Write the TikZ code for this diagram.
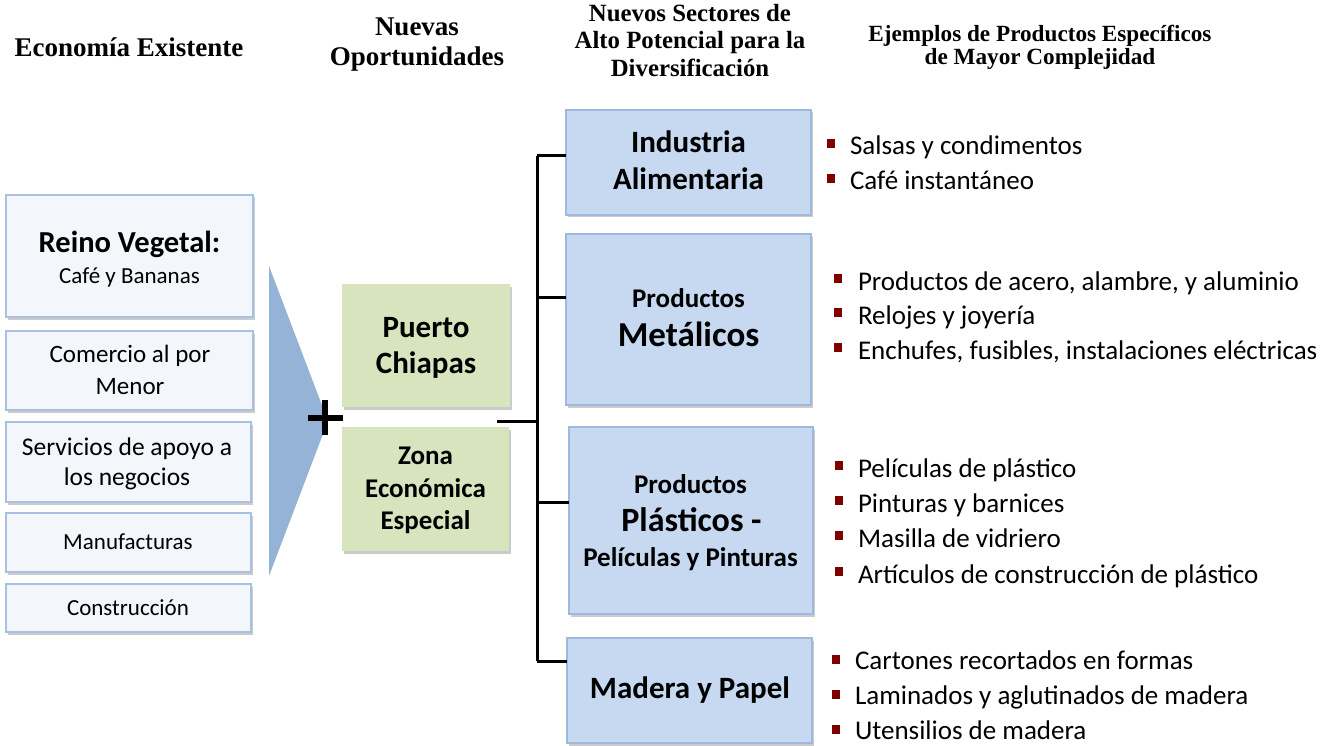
\documentclass[tikz,border=0pt]{standalone}
\usepackage{fontspec}
\setmainfont{Carlito}
\newfontfamily\hdrfont{Liberation Serif}
\usetikzlibrary{shadows}
\definecolor{sfill}{RGB}{198,217,241}
\definecolor{sborder}{RGB}{157,185,222}
\definecolor{efill}{RGB}{243,246,251}
\definecolor{eborder}{RGB}{168,192,226}
\definecolor{gfill}{RGB}{215,228,189}
\definecolor{trifill}{RGB}{149,179,215}
\definecolor{bulred}{RGB}{128,0,0}
\newcommand\myfs[1]{\fontsize{#1}{#1}\selectfont}
\tikzset{
  boxshadow/.style={drop shadow={shadow xshift=2pt,shadow yshift=-2.5pt,fill=black!45,opacity=0.45}},
  ebox/.style={rectangle,fill=efill,draw=eborder,line width=1.3pt,inner sep=0pt,outer sep=0pt,boxshadow},
  gbox/.style={rectangle,fill=gfill,draw=none,inner sep=0pt,outer sep=0pt,boxshadow},
  sbox/.style={rectangle,fill=sfill,draw=sborder,line width=1.5pt,inner sep=0pt,outer sep=0pt,boxshadow},
  txt/.style={inner sep=0pt,outer sep=0pt,anchor=base},
  btxt/.style={inner sep=0pt,outer sep=0pt,anchor=base west,font=\myfs{27}},
  bul/.style={rectangle,fill=bulred,draw=none,minimum width=8.5pt,minimum height=9pt,inner sep=0pt},
  conn/.style={draw=black,line width=3pt},
  hdr/.style={txt,font=\hdrfont\bfseries}
}
\begin{document}
\begin{tikzpicture}[x=1pt,y=-1pt]
\useasboundingbox (0,0) rectangle (1322,746);

% headers
\node[hdr,font=\hdrfont\bfseries\myfs{27}] (h1) at (129,57) {Economía Existente};
\node[hdr,font=\hdrfont\bfseries\myfs{27}] (h2a) at (417,36) {Nuevas};
\node[hdr,font=\hdrfont\bfseries\myfs{27}] (h2b) at (417,66) {Oportunidades};
\node[hdr,font=\hdrfont\bfseries\myfs{24.8}] (h3a) at (690,22) {Nuevos Sectores de};
\node[hdr,font=\hdrfont\bfseries\myfs{24.8}] (h3b) at (690,49) {Alto Potencial para la};
\node[hdr,font=\hdrfont\bfseries\myfs{24.8}] (h3c) at (690,77) {Diversificación};
\node[hdr,font=\hdrfont\bfseries\myfs{23.2}] (h4a) at (1040,42) {Ejemplos de Productos Específicos};
\node[hdr,font=\hdrfont\bfseries\myfs{23.2}] (h4b) at (1040,65) {de Mayor Complejidad};

% triangle and plus
\fill[trifill] (269,266) -- (328,421) -- (269,576) -- cycle;
\draw[line width=6.5pt] (308,418) -- (343,418);
\draw[line width=6.5pt] (325,400) -- (325,435);

% left boxes
\node[ebox,minimum width=247pt,minimum height=122pt] (reino) at (129.5,256) {};
\node[ebox,minimum width=247pt,minimum height=79pt] (comercio) at (129.5,370.5) {};
\node[ebox,minimum width=245pt,minimum height=80pt] (servicios) at (128.5,462) {};
\node[ebox,minimum width=245pt,minimum height=59pt] (manuf) at (128.5,542.5) {};
\node[ebox,minimum width=245pt,minimum height=48pt] (constr) at (128.5,608) {};

\node[txt,font=\bfseries\myfs{30.5}] (t-reino) at (129.5,252) {Reino Vegetal:};
\node[txt,font=\myfs{23}] (t-cafe) at (129.5,283) {Café y Bananas};
\node[txt,font=\myfs{25}] (t-com1) at (130,362) {Comercio al por};
\node[txt,font=\myfs{25}] (t-com2) at (130,394) {Menor};
\node[txt,font=\myfs{25.5}] (t-ser1) at (127,455) {Servicios de apoyo a};
\node[txt,font=\myfs{25.5}] (t-ser2) at (127,485) {los negocios};
\node[txt,font=\myfs{23}] (t-man) at (128,549) {Manufacturas};
\node[txt,font=\myfs{23}] (t-con) at (128,615) {Construcción};

% green boxes
\node[gbox,minimum width=168pt,minimum height=123pt] (puerto) at (426,345.5) {};
\node[gbox,minimum width=167pt,minimum height=124pt] (zona) at (425.5,489) {};
\node[txt,font=\bfseries\myfs{31}] (t-pu1) at (426,337) {Puerto};
\node[txt,font=\bfseries\myfs{31}] (t-pu2) at (426,373) {Chiapas};
\node[txt,font=\bfseries\myfs{27}] (t-zo1) at (425.5,464) {Zona};
\node[txt,font=\bfseries\myfs{27}] (t-zo2) at (425.5,497) {Económica};
\node[txt,font=\bfseries\myfs{27}] (t-zo3) at (425.5,529) {Especial};

% sector boxes
\node[sbox,minimum width=245pt,minimum height=105pt] (ind) at (688.5,162.5) {};
\node[sbox,minimum width=245pt,minimum height=171pt] (met) at (688.5,319.5) {};
\node[sbox,minimum width=244pt,minimum height=187pt] (pla) at (691,520.5) {};
\node[sbox,minimum width=245pt,minimum height=105pt] (mad) at (689.5,690.5) {};

\node[txt,font=\bfseries\myfs{31}] (t-ind1) at (688.5,153) {Industria};
\node[txt,font=\bfseries\myfs{31}] (t-ind2) at (688.5,190) {Alimentaria};
\node[txt,font=\bfseries\myfs{27}] (t-met1) at (688.5,307) {Productos};
\node[txt,font=\bfseries\myfs{35}] (t-met2) at (688.5,346) {Metálicos};
\node[txt,font=\bfseries\myfs{27}] (t-pla1) at (690.5,493) {Productos};
\node[txt,font=\bfseries\myfs{34}] (t-pla2) at (691.5,531) {Plásticos -};
\node[txt,font=\bfseries\myfs{27}] (t-pla3) at (690.5,566) {Películas y Pinturas};
\node[txt,font=\bfseries\myfs{31}] (t-mad) at (690,698) {Madera y Papel};

% connectors
\coordinate (hub) at (497,421);
\coordinate (c1) at (537,156);
\coordinate (c2) at (537,297);
\coordinate (c3) at (537,502);
\coordinate (c4) at (537,661);
\draw[conn] (hub) -- (hub -| c1);
\draw[conn] (c1) -- (c4);
\draw[conn] (c1) -- (ind.west |- c1);
\draw[conn] (c2) -- (met.west |- c2);
\draw[conn] (c3) -- (pla.west |- c3);
\draw[conn] (c4) -- (mad.west |- c4);

% bullets
\node[bul] (bu1) at (831,143.5) {};
\node[bul] (bu2) at (831,178.5) {};
\node[btxt] (p1) at (850,155) {Salsas y condimentos};
\node[btxt] (p2) at (850,190) {Café instantáneo};

\node[bul] (bu3) at (838,278) {};
\node[bul] (bu4) at (838,312) {};
\node[bul] (bu5) at (838,347) {};
\node[btxt] (p3) at (858,290) {Productos de acero, alambre, y aluminio};
\node[btxt] (p4) at (858,324) {Relojes y joyería};
\node[btxt] (p5) at (858,359) {Enchufes, fusibles, instalaciones eléctricas};

\node[bul] (bu6) at (839,465.5) {};
\node[bul] (bu7) at (839,500.5) {};
\node[bul] (bu8) at (839,535.5) {};
\node[bul] (bu9) at (839,571) {};
\node[btxt] (p6) at (858,477) {Películas de plástico};
\node[btxt] (p7) at (858,512) {Pinturas y barnices};
\node[btxt] (p8) at (858,547) {Masilla de vidriero};
\node[btxt] (p9) at (858,583) {Artículos de construcción de plástico};

\node[bul] (bu10) at (836,659.5) {};
\node[bul] (bu11) at (836,694) {};
\node[bul] (bu12) at (836,729) {};
\node[btxt] (p10) at (855,669) {Cartones recortados en formas};
\node[btxt] (p11) at (855,704) {Laminados y aglutinados de madera};
\node[btxt] (p12) at (855,739) {Utensilios de madera};
\end{tikzpicture}
\end{document}
